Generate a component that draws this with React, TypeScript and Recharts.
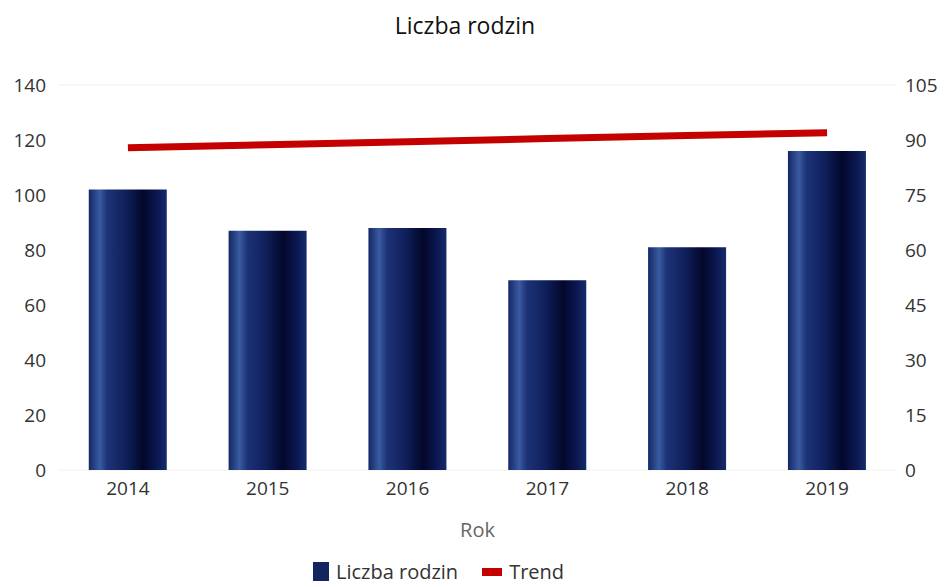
import React from 'react';
import { ComposedChart, Bar, Line, XAxis, YAxis, CartesianGrid, Legend } from 'recharts';

const years = ['2014', '2015', '2016', '2017', '2018', '2019'];
const families = [102, 87, 88, 69, 81, 116];
const trend = [87.9, 88.7, 89.5, 90.4, 91.2, 92.0];
const leftTicks = [0, 20, 40, 60, 80, 100, 120, 140];
const rightTicks = [0, 15, 30, 45, 60, 75, 90, 105];

const data = years.map((rok, i) => ({ rok, rodziny: families[i], trend: trend[i] }));

const FONT = '"Open Sans", "Noto Sans", sans-serif';

const LegendContent = () => (
  <div style={{ display: 'flex', justifyContent: 'flex-start', alignItems: 'center', fontFamily: FONT, fontSize: 20, color: '#333', paddingTop: 11, paddingLeft: 313 }}>
    <span style={{ display: 'inline-block', width: 16, height: 19, background: '#13245e', marginRight: 7 }} />
    <span style={{ marginRight: 24 }}>Liczba rodzin</span>
    <span style={{ display: 'inline-block', width: 20, height: 8, background: '#c40000', marginRight: 7 }} />
    <span>Trend</span>
  </div>
);

export default function App() {
  return (
    <div style={{ position: 'absolute', left: 0, top: 0, width: 950, height: 587, background: '#fff' }}>
      <div style={{ position: 'absolute', top: 9, left: 0, width: 930, textAlign: 'center', fontFamily: FONT, fontSize: 23, color: '#111' }}>
        Liczba rodzin
      </div>
      <ComposedChart width={950} height={587} data={data} margin={{ top: 85, right: 0, left: 0, bottom: 0 }} barCategoryGap="22%">
        <defs>
          <linearGradient id="barGrad" x1="0" y1="0" x2="1" y2="0">
            <stop offset="0%" stopColor="#142766" />
            <stop offset="14%" stopColor="#3a5ba0" />
            <stop offset="24%" stopColor="#1d3277" />
            <stop offset="48%" stopColor="#0f1f5a" />
            <stop offset="70%" stopColor="#03072a" />
            <stop offset="88%" stopColor="#0b1852" />
            <stop offset="100%" stopColor="#162b6b" />
          </linearGradient>
        </defs>
        <CartesianGrid vertical={false} stroke="#f0f0f0" />
        <XAxis
          dataKey="rok"
          height={77}
          axisLine={false}
          tickLine={false}
          tickSize={0}
          tickMargin={12}
          tick={{ fill: '#333', fontSize: 19, fontFamily: FONT }}
          label={{ value: 'Rok', position: 'insideBottom', offset: 10, fill: '#666', fontSize: 20, fontFamily: FONT }}
        />
        <YAxis
          yAxisId="left"
          width={58}
          domain={[0, 140]}
          ticks={leftTicks}
          axisLine={false}
          tickLine={false}
          tickSize={0}
          tickMargin={12}
          tick={{ fill: '#333', fontSize: 19, fontFamily: FONT }}
        />
        <YAxis
          yAxisId="right"
          orientation="right"
          width={53}
          domain={[0, 105]}
          ticks={rightTicks}
          axisLine={false}
          tickLine={false}
          tickSize={0}
          tickMargin={8}
          tick={{ fill: '#333', fontSize: 19, fontFamily: FONT, textAnchor: 'start' }}
        />
        <Bar yAxisId="left" dataKey="rodziny" name="Liczba rodzin" fill="url(#barGrad)" isAnimationActive={false} />
        <Line yAxisId="right" dataKey="trend" name="Trend" stroke="#c40000" strokeWidth={7} dot={false} activeDot={false} isAnimationActive={false} />
        <Legend verticalAlign="bottom" height={40} content={<LegendContent />} />
      </ComposedChart>
    </div>
  );
}
